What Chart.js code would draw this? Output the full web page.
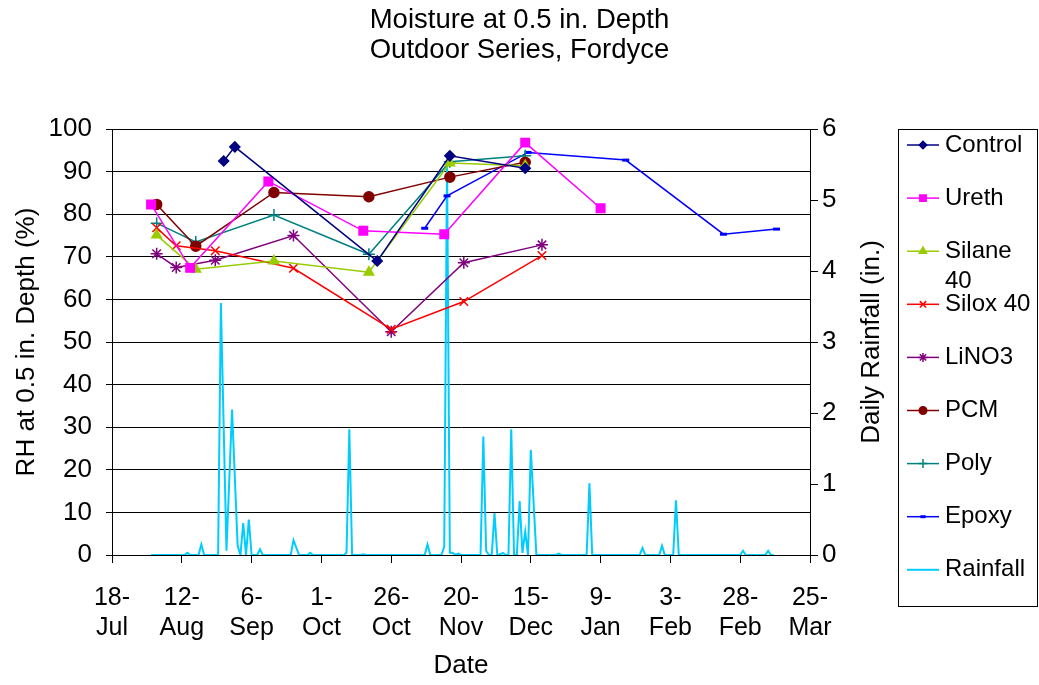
<!DOCTYPE html>
<html lang="en">
<head>
<meta charset="UTF-8" />
<title>Moisture at 0.5 in. Depth</title>
<script src="https://cdn.jsdelivr.net/npm/chart.js"></script>
<style>
  body { margin: 0; background: #fff; }
</style>
</head>
<body>
<canvas id="moistureChart" width="1039" height="685"></canvas>
<script>
// x values are days counted from 18 Jul
const tickLabels = [
    ["18-", "Jul"], ["12-", "Aug"], ["6-", "Sep"], ["1-", "Oct"], ["26-", "Oct"], ["20-", "Nov"],
    ["15-", "Dec"], ["9-", "Jan"], ["3-", "Feb"], ["28-", "Feb"], ["25-", "Mar"]
];

const controlDays = [40, 44, 95, 121, 148];
const controlRH = [92.5, 95.8, 69.0, 93.7, 90.8];
const urethDays = [14, 28, 56, 90, 119, 148, 175];
const urethRH = [82.3, 67.4, 87.7, 76.1, 75.3, 96.8, 81.4];
const silaneDays = [16, 30, 58, 92, 121, 148];
const silaneRH = [75.1, 67.1, 69.0, 66.4, 92.0, 91.4];
const siloxDays = [16, 23, 37, 65, 100, 126, 154];
const siloxRH = [76.8, 72.6, 71.4, 67.3, 53.0, 59.5, 70.3];
const lino3Days = [16, 23, 37, 65, 100, 126, 154];
const lino3RH = [70.7, 67.5, 69.2, 75.0, 52.4, 68.6, 72.8];
const pcmDays = [16, 30, 58, 92, 121, 148];
const pcmRH = [82.3, 72.5, 85.1, 84.1, 88.7, 92.2];
const polyDays = [16, 30, 58, 92, 121, 148];
const polyRH = [77.9, 73.5, 79.8, 70.6, 92.3, 93.7];
const epoxyDays = [112, 120, 149, 184, 219, 238];
const epoxyRH = [76.7, 84.3, 94.5, 92.7, 75.3, 76.5];

const rainDays = [
    14, 26, 27, 28, 31, 32, 33, 38, 39, 41, 43, 45, 46, 47, 48, 49, 50, 52, 53, 54,
    64, 65, 67, 70, 71, 72, 83, 84, 85, 86, 89, 90, 91, 112, 113, 114, 118, 119, 120, 121,
    122, 123, 124, 125, 132, 133, 134, 135, 136, 137, 138, 139, 140, 141, 142, 143, 144, 145, 146, 147,
    148, 149, 150, 152, 159, 160, 161, 170, 171, 172, 189, 190, 191, 196, 197, 198, 201, 202, 203, 225,
    226, 227, 234, 235, 236, 237
];
const rainInches = [
    0, 0, 0.03, 0, 0, 0.15, 0, 0, 3.55, 0.06, 2.05, 0.13, 0, 0.45, 0, 0.5, 0, 0, 0.08, 0,
    0, 0.21, 0, 0, 0.03, 0, 0, 0.03, 1.77, 0, 0, 0.01, 0, 0, 0.15, 0, 0, 0.12, 5.55, 0.03,
    0.03, 0, 0.02, 0, 0, 1.67, 0.06, 0, 0, 0.59, 0, 0.01, 0.03, 0, 0, 1.77, 0, 0, 0.76, 0.03,
    0.33, 0, 1.48, 0, 0, 0.02, 0, 0, 1.01, 0, 0, 0.1, 0, 0, 0.13, 0, 0, 0.77, 0, 0,
    0.06, 0, 0, 0.06, 0, 0
];

function points(days, values) {
    return days.map((d, i) => ({ x: d, y: values[i] }));
}

function series(label, days, values, color, style, radius, extra) {
    return Object.assign({
        label: label,
        data: points(days, values),
        borderColor: color,
        backgroundColor: color,
        borderWidth: 1.5,
        pointStyle: style,
        pointRadius: radius,
        pointBorderWidth: 1.5,
        pointHoverRadius: radius,
        tension: 0,
        yAxisID: "y",
    }, extra || {});
}

const datasets = [
    series("Control", controlDays, controlRH, "#000080", "rectRot", 5),
    series("Ureth", urethDays, urethRH, "#ff00ff", "rect", 6),
    series("Silane 40", silaneDays, silaneRH, "#99cc00", "triangle", 5.5),
    series("Silox 40", siloxDays, siloxRH, "#ff0000", "crossRot", 6),
    series("LiNO3", lino3Days, lino3RH, "#800080", "star", 6),
    series("PCM", pcmDays, pcmRH, "#800000", "circle", 5),
    series("Poly", polyDays, polyRH, "#008080", "cross", 6),
    series("Epoxy", epoxyDays, epoxyRH, "#0000ff", "line", 3.5, { pointBorderWidth: 3 }),
    series("Rainfall", rainDays, rainInches, "#00ccff", false, 0, { yAxisID: "rain", borderWidth: 2 }),
];

const fontFamily = 'Arial, "Liberation Sans", sans-serif';
Chart.defaults.font.family = fontFamily;
Chart.defaults.color = "#000";

// legend box and right axis title, drawn by hand
const sidePanel = {
    id: "sidePanel",
    afterDraw(chart) {
        const ctx = chart.ctx;
        ctx.save();

        ctx.font = "26px " + fontFamily;
        ctx.fillStyle = "#000";
        ctx.textAlign = "center";
        ctx.textBaseline = "middle";
        ctx.translate(872, 342);
        ctx.rotate(-Math.PI / 2);
        ctx.fillText("Daily Rainfall (in.)", 0, 0);
        ctx.setTransform(1, 0, 0, 1, 0, 0);

        ctx.strokeStyle = "#000";
        ctx.lineWidth = 1;
        ctx.strokeRect(898.5, 129.5, 139, 477);

        ctx.font = "24px " + fontFamily;
        ctx.textAlign = "left";
        let y = 145;
        chart.data.datasets.forEach((ds) => {
            ctx.strokeStyle = ds.borderColor;
            ctx.fillStyle = ds.backgroundColor;
            ctx.lineWidth = ds.borderWidth;
            ctx.beginPath();
            ctx.moveTo(907, y);
            ctx.lineTo(939, y);
            ctx.stroke();
            if (ds.pointStyle) {
                ctx.lineWidth = ds.pointBorderWidth;
                Chart.helpers.drawPoint(ctx, {
                    pointStyle: ds.pointStyle,
                    radius: ds.pointRadius * 0.75,
                    rotation: 0,
                    borderWidth: ds.pointBorderWidth,
                }, 923, y);
            }
            // wrap long labels onto a second line
            const words = ds.label.split(" ");
            const lines = [];
            let line = "";
            words.forEach((w) => {
                const test = line ? line + " " + w : w;
                if (line && ctx.measureText(test).width > 90) {
                    lines.push(line);
                    line = w;
                } else {
                    line = test;
                }
            });
            lines.push(line);
            ctx.fillStyle = "#000";
            lines.forEach((l, i) => ctx.fillText(l, 945, y + i * 30));
            y += 53.1;
        });
        ctx.restore();
    },
};

const ctx = document.getElementById("moistureChart").getContext("2d");
const chart = new Chart(ctx, {
    type: "line",
    data: { datasets: datasets },
    options: {
        responsive: false,
        animation: false,
        layout: { padding: 0 },
        plugins: {
            legend: { display: false },
            tooltip: { enabled: false },
            title: {
                display: true,
                text: ["Moisture at 0.5 in. Depth", "Outdoor Series, Fordyce"],
                font: { size: 27.5, weight: "normal", lineHeight: 1.1 },
                color: "#000",
                padding: { top: 5, bottom: 63.5 },
            },
        },
        scales: {
            x: {
                type: "linear",
                min: 0,
                max: 250,
                afterFit: (scale) => { scale.height = 130; },
                ticks: {
                    stepSize: 25,
                    autoSkip: false,
                    maxRotation: 0,
                    padding: 20,
                    font: { size: 25, lineHeight: 1.2 },
                    callback: (value) => tickLabels[Math.round(value / 25)],
                },
                grid: { drawOnChartArea: false, tickLength: 8, color: "#000" },
                border: { color: "#000", width: 1 },
                title: {
                    display: true,
                    text: "Date",
                    font: { size: 26 },
                    padding: { top: 0, bottom: 4 },
                },
            },
            y: {
                position: "left",
                min: 0,
                max: 100,
                afterFit: (scale) => { scale.width = 112; },
                ticks: { stepSize: 10, padding: 14, font: { size: 26 } },
                grid: { color: "#000", tickLength: 6 },
                border: { color: "#000", width: 1 },
                title: {
                    display: true,
                    text: "RH at 0.5 in. Depth (%)",
                    font: { size: 26 },
                    padding: { top: 11, bottom: 0 },
                },
            },
            rain: {
                position: "right",
                min: 0,
                max: 6,
                afterFit: (scale) => { scale.width = 229; },
                ticks: { stepSize: 1, padding: 4, font: { size: 26 } },
                grid: { drawOnChartArea: false, color: "#000", tickLength: 8 },
                border: { color: "#000", width: 1 },
            },
        },
    },
    plugins: [sidePanel],
});
</script>
</body>
</html>
